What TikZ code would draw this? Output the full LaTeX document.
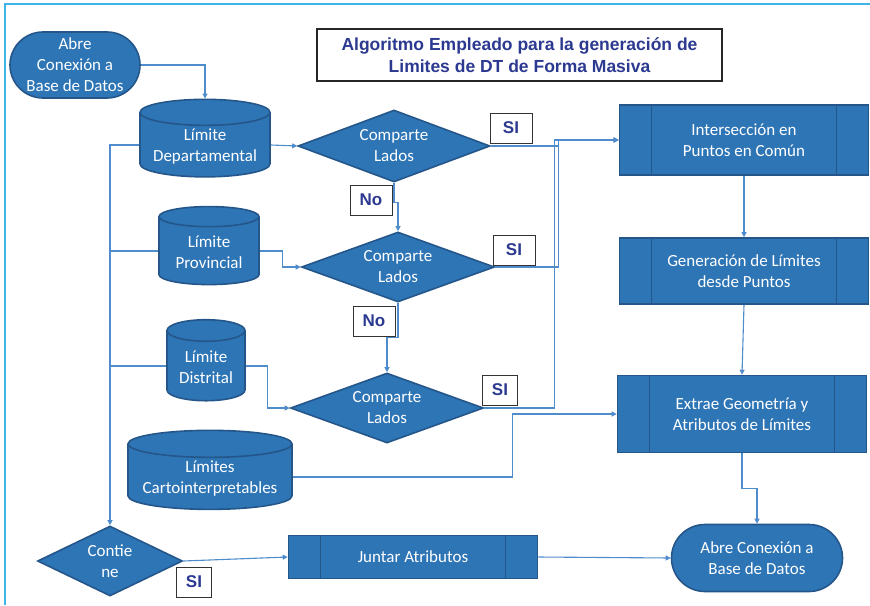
\documentclass[tikz,border=0pt]{standalone}
\usepackage{fontspec}
\setmainfont{Carlito}
\newfontfamily\labfont{Liberation Sans}
\usepackage{tikz}
\usetikzlibrary{arrows.meta}
\usetikzlibrary{shapes.geometric}
\definecolor{nodeblue}{HTML}{2E75B6}
\definecolor{edgeblue}{HTML}{24568A}
\definecolor{linkblue}{HTML}{4F8CCB}
\definecolor{navy}{HTML}{2B3990}
\definecolor{framecyan}{HTML}{3DB5E6}
\newcommand\dbtop{\mbox{}\\[-7pt]}
\tikzstyle{flowhead}=[>/.tip={Triangle[length=5pt,width=5pt]}]
\tikzstyle{link}=[line width=1.1pt,draw=linkblue]
\tikzstyle{flow}=[link,flowhead,->]
\tikzstyle{shp}=[draw=edgeblue,line width=1.6pt,fill=nodeblue,text=white,align=center,font=\fontsize{17}{21}\selectfont]
\tikzstyle{term}=[shp,rectangle,rounded corners=33pt,minimum height=66pt]
\tikzstyle{db}=[shp,cylinder,shape border rotate=90,inner sep=0pt]
\tikzstyle{decide}=[shp,diamond,inner sep=0pt,aspect=2.75]
\tikzstyle{proc}=[shp,rectangle,minimum width=249pt,path picture={
  \draw[edgeblue,line width=1.6pt]
    ([xshift=32pt]path picture bounding box.north west) -- ([xshift=32pt]path picture bounding box.south west)
    ([xshift=-32pt]path picture bounding box.north east) -- ([xshift=-32pt]path picture bounding box.south east);}]
\tikzstyle{lab}=[draw=black!80,line width=1pt,fill=white,text=navy,font=\labfont\bfseries\fontsize{17}{18}\selectfont,minimum width=42pt,minimum height=30pt,inner sep=0pt]

\begin{document}
\begin{tikzpicture}[x=1pt,y=-1pt]
	\useasboundingbox (0,0) rectangle (870,605);
	\draw[framecyan,line width=2pt] (5,605) -- (5,4) -- (870,4);
	\node[draw=black!85,line width=1.2pt,minimum width=405pt,minimum height=52pt,text=navy,align=center,
	      font=\labfont\bfseries\fontsize{17.5}{22}\selectfont] (title) at (519.5,55)
	      {Algoritmo Empleado para la generación de\\Limites de DT de Forma Masiva};
	% fuentes de datos
	\node[term,minimum width=130pt] (start) at (75,65) {Abre\\Conexión a\\Base de Datos};
	\node[db,minimum width=130pt,minimum height=76pt,aspect=0.25] (dep)   at (205,145) {\dbtop Límite\\Departamental};
	\node[db,minimum width=100pt,minimum height=78pt,aspect=0.3]  (prov)  at (209,251) {\dbtop Límite\\Provincial};
	\node[db,minimum width=78pt,minimum height=81pt,aspect=0.4]   (dist)  at (206,366) {\dbtop Límite\\Distrital};
	\node[db,minimum width=164pt,minimum height=79pt,aspect=0.2]  (carto) at (210,477) {\dbtop Límites\\Cartointerpretables};
	% decisiones
	\node[decide,minimum width=192pt,minimum height=72pt] (cmpA) at (394,146) {Comparte\\Lados};
	\node[decide,minimum width=193pt,minimum height=70pt] (cmpB) at (398,267) {Comparte\\Lados};
	\node[decide,minimum width=193pt,minimum height=70pt] (cmpC) at (387,408) {Comparte\\Lados};
	\node[decide,minimum width=145pt,minimum height=70pt,aspect=2.1] (cont) at (110,561) {Contie\\ne};
	% procesos
	\node[proc,minimum height=70pt] (inter) at (744,140) {Intersección en\\Puntos en Común};
	\node[proc,minimum height=66pt] (gen)   at (744,271) {Generación de Límites\\desde Puntos};
	\node[proc,minimum height=77pt] (extr)  at (742,414) {Extrae Geometría y\\Atributos de Límites};
	\node[proc,minimum height=43pt] (junt)  at (413,557) {Juntar Atributos};
	\node[term,minimum width=171pt,minimum height=67pt,rounded corners=33.5pt] (fin) at (757,558) {Abre Conexión a\\Base de Datos};
	% etiquetas
	\node[lab] (siA) at (511,128) {SI};
	\node[lab] (noA) at (371,200) {No};
	\node[lab] (siB) at (514,250) {SI};
	\node[lab] (noB) at (374,321) {No};
	\node[lab,minimum width=35pt] (siC) at (500,390) {SI};
	\node[lab,minimum width=35pt] (siD) at (194,582) {SI};
	% conectores
	\draw[flow] (start.east) -| (dep.north);
	\draw[flow] (dep.east) -- (cmpA.west);
	\draw[flow] (dep.west) -| (cont.north);
	\draw[link] (prov.west) -- (prov.west -| cont.north);
	\draw[link] (dist.west) -- (dist.west -| cont.north);
	\draw[flow] (cmpA.south) -- ++(0,20) -| (cmpB.north);
	\draw[flow] (cmpB.south) -- ++(0,35) -| (cmpC.north);
	\draw[flow] (prov.east) -- ++(23,0) |- (cmpB.west);
	\draw[flow] (dist.east) -- ++(22,0) |- (cmpC.west);
	\draw[flow] (cmpA.east) -- ++(68,0) |- (inter.west);
	\draw[flow] (cmpB.east) -- ++(63,0) |- (inter.west);
	\draw[flow] (cmpC.east) -- ++(70,0) |- (inter.west);
	\draw[flow] (inter.south) -- (gen.north);
	\draw[flow] (gen.south) -- (extr.north);
	\draw[flow] (carto.east) -- ++(220,0) |- (extr.west);
	\draw[flow] (extr.south) -- ++(0,35) -| (fin.north);
	\draw[flow] (cont.east) -- (junt.west);
	\draw[flow] (junt.east) -- (fin.west);
\end{tikzpicture}
\end{document}
